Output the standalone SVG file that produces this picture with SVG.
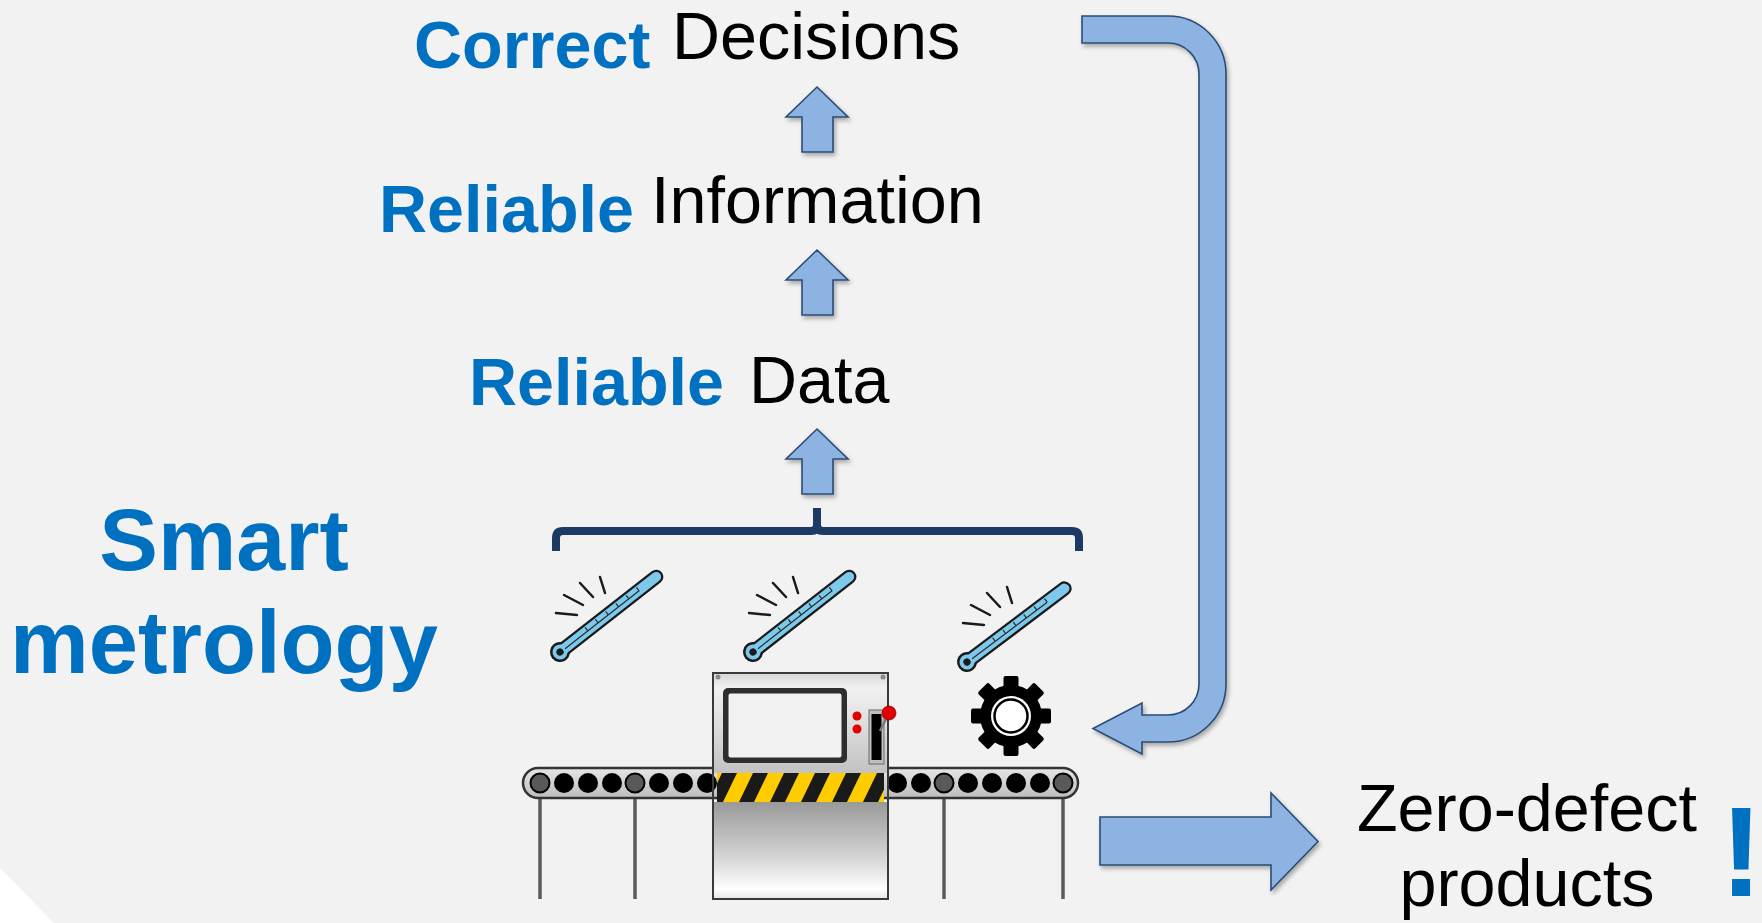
<svg xmlns="http://www.w3.org/2000/svg" width="1762" height="923" viewBox="0 0 1762 923">
  <style>
    .t { font-family: "Liberation Sans", Arial, sans-serif; font-size: 66.5px; }
    .blue { fill: #0070c0; font-weight: bold; }
    .black { fill: #000000; }
    .arrow { fill: #8db3e2; stroke: #2b4c76; stroke-width: 1.6; stroke-linejoin: miter; filter: url(#shadow); }
    .tick { stroke: #1a1a1a; stroke-width: 2.5; stroke-linecap: round; fill: none; }
    .roller { fill: #000000; }
    .roller-g { fill: #595959; stroke: #000000; stroke-width: 2; }
    .leg { stroke: #5a5a5a; stroke-width: 3.5; }
  </style>
  <defs>
    <filter id="shadow" x="-20%" y="-20%" width="140%" height="140%">
      <feDropShadow dx="2" dy="3" stdDeviation="2" flood-color="#000" flood-opacity="0.3"/>
    </filter>
    <path id="up" d="M0,0 L31,30 L16,30 L16,65 L-15,65 L-15,30 L-31,30 Z"/>
    <linearGradient id="cabTop" x1="0" y1="0" x2="0" y2="1">
      <stop offset="0" stop-color="#d6d6d6"/>
      <stop offset="0.15" stop-color="#f2f2f2"/>
      <stop offset="1" stop-color="#c2c2c2"/>
    </linearGradient>
    <linearGradient id="cabBottom" x1="0" y1="0" x2="0" y2="1">
      <stop offset="0" stop-color="#999999"/>
      <stop offset="0.6" stop-color="#d8d8d8"/>
      <stop offset="0.9" stop-color="#ffffff"/>
      <stop offset="1" stop-color="#e6e6e6"/>
    </linearGradient>
    <linearGradient id="belt" x1="0" y1="0" x2="0" y2="1">
      <stop offset="0" stop-color="#e6e6e6"/>
      <stop offset="1" stop-color="#bdbdbd"/>
    </linearGradient>
    <clipPath id="hazardClip">
      <rect x="717" y="773" width="167" height="29"/>
    </clipPath>
    <!-- thermometer drawn along +x from the bulb centre -->
    <g id="thermo">
      <line x1="0" y1="0" x2="122" y2="0" stroke="#1a1a1a" stroke-width="14.5" stroke-linecap="round"/>
      <circle cx="0" cy="0" r="10" fill="#1a1a1a"/>
      <line x1="0" y1="0" x2="122" y2="0" stroke="#7cc9ec" stroke-width="10" stroke-linecap="round"/>
      <circle cx="0" cy="0" r="7.5" fill="#7cc9ec"/>
      <circle cx="0" cy="0" r="3.6" fill="#1a1a1a"/>
      <line x1="6" y1="0.5" x2="100" y2="0.5" stroke="#2a2a2a" stroke-width="1.2"/>
      <path d="M35,0.5 V-4 M48,0.5 V-4 M61,0.5 V-4 M74,0.5 V-4 M87,0.5 V-4 M100,0.5 V-4" stroke="#2a2a2a" stroke-width="1.2"/>
    </g>
    <!-- short "reading" strokes next to a thermometer -->
    <path id="sig" d="M-4,-39 L17,-37 M4,-57 L23,-47 M20,-69 L33,-55 M40,-75 L45,-59"/>
  </defs>

  <!-- page -->
  <rect x="0" y="0" width="1762" height="923" fill="#f2f2f2"/>
  <polygon points="0,868 0,923 54,923" fill="#ffffff"/>

  <g id="title">
    <text class="t blue" x="224" y="570" text-anchor="middle" style="font-size:88px">Smart</text>
    <text class="t blue" x="224" y="673" text-anchor="middle" style="font-size:88.5px">metrology</text>
  </g>

  <g id="decisions">
    <text class="t blue" x="414" y="68">Correct</text>
    <text class="t black" x="672" y="59">Decisions</text>
  </g>

  <g id="information">
    <text class="t blue" x="379" y="232">Reliable</text>
    <text class="t black" x="651" y="223">Information</text>
  </g>

  <g id="data">
    <text class="t blue" x="469" y="405">Reliable</text>
    <text class="t black" x="749" y="403">Data</text>
  </g>

  <g id="sensors">
    <g transform="translate(560,652)">
      <use href="#sig" class="tick"/>
      <use href="#thermo" transform="rotate(-38)"/>
    </g>
    <g transform="translate(753,652)">
      <use href="#sig" class="tick"/>
      <use href="#thermo" transform="rotate(-38)"/>
    </g>
    <g transform="translate(967,662)">
      <use href="#sig" class="tick"/>
      <use href="#thermo" transform="rotate(-37)"/>
    </g>
  </g>

  <g id="gear" transform="translate(1011,716)">
    <g fill="#000000">
      <circle r="31"/>
      <rect x="-7.5" y="-40" width="15" height="14" rx="2"/>
      <rect x="-7.5" y="-40" width="15" height="14" rx="2" transform="rotate(45)"/>
      <rect x="-7.5" y="-40" width="15" height="14" rx="2" transform="rotate(90)"/>
      <rect x="-7.5" y="-40" width="15" height="14" rx="2" transform="rotate(135)"/>
      <rect x="-7.5" y="-40" width="15" height="14" rx="2" transform="rotate(180)"/>
      <rect x="-7.5" y="-40" width="15" height="14" rx="2" transform="rotate(225)"/>
      <rect x="-7.5" y="-40" width="15" height="14" rx="2" transform="rotate(270)"/>
      <rect x="-7.5" y="-40" width="15" height="14" rx="2" transform="rotate(315)"/>
    </g>
    <circle r="20" fill="#ffffff"/>
    <circle r="16.5" fill="#ffffff" stroke="#000000" stroke-width="2.5"/>
  </g>

  <g id="conveyor">
    <line class="leg" x1="540" y1="790" x2="540" y2="899"/>
    <line class="leg" x1="635" y1="790" x2="635" y2="899"/>
    <line class="leg" x1="944" y1="790" x2="944" y2="899"/>
    <line class="leg" x1="1063" y1="790" x2="1063" y2="899"/>
    <rect x="523" y="768" width="555" height="30" rx="15" fill="url(#belt)" stroke="#333333" stroke-width="2.5"/>
    <circle class="roller-g" cx="540" cy="783" r="9.5"/>
    <circle class="roller" cx="564" cy="783" r="10"/>
    <circle class="roller" cx="588" cy="783" r="10"/>
    <circle class="roller" cx="612" cy="783" r="10"/>
    <circle class="roller-g" cx="635" cy="783" r="9.5"/>
    <circle class="roller" cx="659" cy="783" r="10"/>
    <circle class="roller" cx="683" cy="783" r="10"/>
    <circle class="roller" cx="707" cy="783" r="10"/>
    <circle class="roller" cx="897" cy="783" r="10"/>
    <circle class="roller" cx="921" cy="783" r="10"/>
    <circle class="roller-g" cx="944" cy="783" r="9.5"/>
    <circle class="roller" cx="968" cy="783" r="10"/>
    <circle class="roller" cx="992" cy="783" r="10"/>
    <circle class="roller" cx="1016" cy="783" r="10"/>
    <circle class="roller" cx="1040" cy="783" r="10"/>
    <circle class="roller-g" cx="1063" cy="783" r="9.5"/>
  </g>

  <g id="machine">
    <rect x="713" y="673" width="175" height="100" fill="url(#cabTop)"/>
    <rect x="713" y="802" width="175" height="97" fill="url(#cabBottom)"/>
    <g clip-path="url(#hazardClip)">
      <rect x="717" y="773" width="167" height="29" fill="#ffcc00"/>
      <g fill="#1a1a1a">
        <polygon points="691,773 706,773 692,802 677,802"/>
        <polygon points="722,773 737,773 723,802 708,802"/>
        <polygon points="753,773 768,773 754,802 739,802"/>
        <polygon points="784,773 799,773 785,802 770,802"/>
        <polygon points="815,773 830,773 816,802 801,802"/>
        <polygon points="846,773 861,773 847,802 832,802"/>
        <polygon points="877,773 892,773 878,802 863,802"/>
        <polygon points="908,773 923,773 909,802 894,802"/>
      </g>
    </g>
    <rect x="713" y="673" width="175" height="226" fill="none" stroke="#3a3a3a" stroke-width="2"/>
    <circle cx="718" cy="677" r="2.5" fill="#8a8a8a"/>
    <circle cx="883" cy="677" r="2.5" fill="#8a8a8a"/>
    <rect x="723" y="688" width="124" height="75" rx="5" fill="#2e2e2e"/>
    <rect x="728.5" y="693.5" width="113" height="64" rx="2" fill="#f2f2f2"/>
    <circle cx="857" cy="716" r="4.5" fill="#e00000"/>
    <circle cx="857" cy="729" r="4.5" fill="#e00000"/>
    <rect x="869" y="710" width="15" height="54" fill="#bfbfbf" stroke="#6a6a6a" stroke-width="1"/>
    <rect x="871.5" y="714" width="10" height="46" fill="#000000"/>
    <line x1="880" y1="731" x2="888" y2="715" stroke="#7a7a7a" stroke-width="2.5"/>
    <circle cx="889" cy="713" r="7" fill="#e00000" stroke="#a00000" stroke-width="0.8"/>
  </g>

  <g id="result">
    <text class="t black" x="1527" y="831" text-anchor="middle">Zero-defect</text>
    <text class="t black" x="1527" y="906" text-anchor="middle">products</text>
    <text class="t blue" x="1720" y="896" style="font-size:128px;letter-spacing:-10px">!</text>
  </g>

  <g id="connectors">
    <use href="#up" class="arrow" x="817" y="87"/>
    <use href="#up" class="arrow" x="817" y="250"/>
    <use href="#up" class="arrow" x="817" y="429"/>
    <path d="M556,551 L556,538 Q556,531 563,531 L811,531 Q817,531 817,525 L817,508 M817,525 Q817,531 823,531 L1072,531 Q1079,531 1079,538 L1079,551" fill="none" stroke="#1c3a63" stroke-width="8" stroke-linejoin="round"/>
    <path class="arrow" d="M1082,16 L1168,16 A58,58 0 0 1 1226,74 L1226,684 A58,58 0 0 1 1168,742 L1142,742 L1142,754 L1093,728.5 L1142,703 L1142,715 L1168,715 A31,31 0 0 0 1199,684 L1199,74 A31,31 0 0 0 1168,43 L1082,43 Z"/>
    <path class="arrow" d="M1100,817 L1271,817 L1271,793 L1318,841.5 L1271,890 L1271,865 L1100,865 Z"/>
  </g>
</svg>
